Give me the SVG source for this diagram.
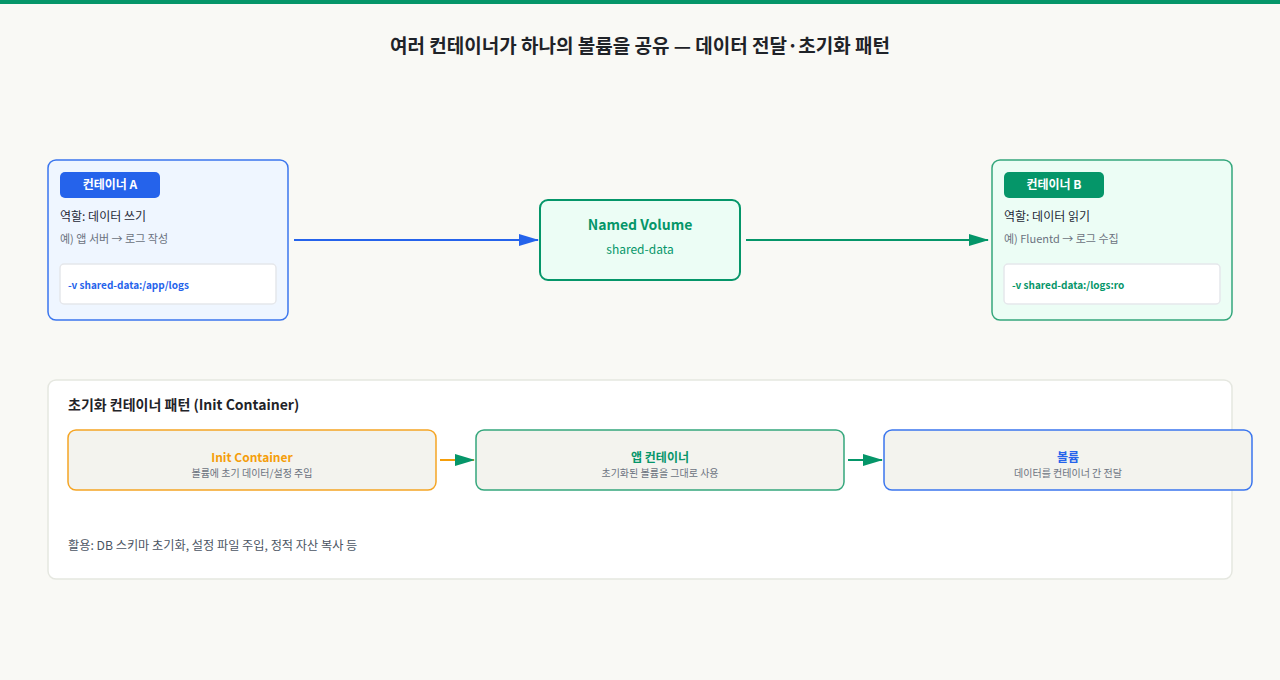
<svg xmlns="http://www.w3.org/2000/svg" width="1280" height="680" viewBox="0 0 1280 680">
<style>
text{font-family:"Noto Sans CJK KR","Noto Sans",sans-serif}
.title{font-size:19px;font-weight:700;fill:#1f2328}
.badge-t{font-size:12px;font-weight:700;fill:#fff}
.role{font-size:12px;fill:#1f2937}
.ex{font-size:11px;fill:#6b7280}
.code{font-size:10px;font-weight:700}
.inner{fill:#fff;stroke:#e5e7eb;stroke-width:1.5}
.sub{font-size:10px;fill:#6b7280}
.step{fill:#f3f3ee;stroke-width:1.5}
.stept{font-size:12px;font-weight:700}
</style>
<defs>
<marker id="ab2" markerWidth="20" markerHeight="12" refX="19" refY="6" orient="auto" markerUnits="userSpaceOnUse" viewBox="0 0 20 12"><path d="M0,0 L20,6 L0,12 z" fill="#2563eb"/></marker>
<marker id="ag2" markerWidth="20" markerHeight="12" refX="19" refY="6" orient="auto" markerUnits="userSpaceOnUse" viewBox="0 0 20 12"><path d="M0,0 L20,6 L0,12 z" fill="#059669"/></marker>
</defs>
<rect width="1280" height="680" fill="#f9f9f5"/>
<rect width="1280" height="4" fill="#059669"/>
<text class="title" x="640" y="53" text-anchor="middle">여러 컨테이너가 하나의 볼륨을 공유 — 데이터 전달·초기화 패턴</text>

<g id="container-a">
<rect x="48" y="160" width="240" height="160" rx="8" fill="#eff6ff" stroke="#3b76ee" stroke-width="1.5"/>
<rect x="60" y="172" width="100" height="26" rx="5" fill="#2563eb"/>
<text class="badge-t" x="110" y="189" text-anchor="middle">컨테이너 A</text>
<text class="role" x="60" y="221">역할: 데이터 쓰기</text>
<text class="ex" x="60" y="243">예) 앱 서버 → 로그 작성</text>
<rect class="inner" x="60" y="264" width="216" height="40" rx="4"/>
<text class="code" x="68" y="289" fill="#2563eb">-v shared-data:/app/logs</text>
</g>

<g id="named-volume">
<rect x="540" y="200" width="200" height="80" rx="8" fill="#ecfdf5" stroke="#059669" stroke-width="2"/>
<text x="640" y="230" text-anchor="middle" font-size="14" font-weight="700" fill="#059669">Named Volume</text>
<text x="640" y="254" text-anchor="middle" font-size="12" fill="#059669">shared-data</text>
</g>

<g id="container-b">
<rect x="992" y="160" width="240" height="160" rx="8" fill="#ecfdf5" stroke="#34a77c" stroke-width="1.5"/>
<rect x="1004" y="172" width="100" height="26" rx="5" fill="#059669"/>
<text class="badge-t" x="1054" y="189" text-anchor="middle">컨테이너 B</text>
<text class="role" x="1004" y="221">역할: 데이터 읽기</text>
<text class="ex" x="1004" y="243">예) Fluentd → 로그 수집</text>
<rect class="inner" x="1004" y="264" width="216" height="40" rx="4"/>
<text class="code" x="1012" y="289" fill="#059669">-v shared-data:/logs:ro</text>
</g>

<g id="init-panel">
<rect x="48" y="380" width="1184" height="199" rx="8" fill="#ffffff" stroke="#e5e7e0" stroke-width="1.5"/>
<text x="68" y="410" font-size="14" font-weight="700" fill="#1f2328">초기화 컨테이너 패턴 (Init Container)</text>
<text x="68" y="550" font-size="12.2" fill="#4b5563">활용: DB 스키마 초기화, 설정 파일 주입, 정적 자산 복사 등</text>
</g>

<g id="init-container">
<rect class="step" x="68" y="430" width="368" height="60" rx="8" stroke="#f5a524"/>
<text class="stept" x="252" y="462" text-anchor="middle" fill="#f59e0b">Init Container</text>
<text class="sub" x="252" y="477" text-anchor="middle">볼륨에 초기 데이터/설정 주입</text>
</g>

<g id="app-container">
<rect class="step" x="476" y="430" width="368" height="60" rx="8" stroke="#34a77c"/>
<text class="stept" x="660" y="462" text-anchor="middle" fill="#059669">앱 컨테이너</text>
<text class="sub" x="660" y="477" text-anchor="middle">초기화된 볼륨을 그대로 사용</text>
</g>

<g id="volume">
<rect class="step" x="884" y="430" width="368" height="60" rx="8" stroke="#3b76ee"/>
<text class="stept" x="1068" y="462" text-anchor="middle" fill="#2563eb">볼륨</text>
<text class="sub" x="1068" y="477" text-anchor="middle">데이터를 컨테이너 간 전달</text>
</g>

<g id="connectors" fill="none" stroke-width="2">
<line x1="294" y1="240" x2="538" y2="240" stroke="#2563eb" marker-end="url(#ab2)"/>
<line x1="746" y1="240" x2="988" y2="240" stroke="#059669" marker-end="url(#ag2)"/>
<line x1="440" y1="460" x2="474" y2="460" stroke="#f59e0b" marker-end="url(#ag2)"/>
<line x1="848" y1="460" x2="882" y2="460" stroke="#059669" marker-end="url(#ag2)"/>
</g>
</svg>
